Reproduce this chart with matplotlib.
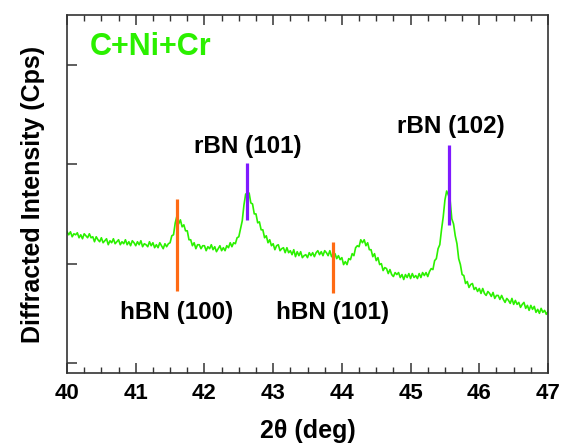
import numpy as np
import matplotlib
matplotlib.use('Agg')
import matplotlib.pyplot as plt
from matplotlib.ticker import MultipleLocator

plt.rcParams['font.family'] = ['Liberation Sans', 'DejaVu Sans']
plt.rcParams['font.weight'] = 'bold'

# XRD scan, 40 - 47 deg, step 0.025 deg (intensity in arb. cps)
intensity = [
    132, 129, 132, 127, 130, 129, 131, 126, 129, 125, 130, 128, 126, 130, 126, 127, 122, 127, 124, 122,
    126, 121, 123, 125, 119, 123, 121, 125, 120, 122, 124, 119, 122, 120, 124, 119, 122, 118, 123, 121,
    118, 122, 119, 123, 117, 120, 119, 117, 122, 118, 121, 116, 119, 116, 121, 118, 115, 120, 117, 120,
    121, 128, 129, 141, 148, 140, 144, 137, 139, 133, 133, 124, 124, 118, 121, 115, 119, 119, 115, 118,
    118, 113, 117, 115, 119, 114, 117, 112, 115, 118, 113, 116, 113, 118, 116, 121, 117, 121, 120, 126,
    127, 135, 143, 159, 170, 170, 171, 161, 160, 150, 150, 141, 142, 134, 134, 126, 128, 121, 124, 118,
    120, 114, 118, 119, 113, 115, 116, 111, 116, 111, 113, 109, 114, 107, 112, 108, 112, 106, 108, 109,
    106, 111, 108, 111, 107, 111, 113, 109, 112, 108, 113, 111, 108, 113, 107, 110, 110, 105, 108, 104,
    106, 99, 102, 99, 105, 104, 110, 108, 116, 118, 117, 124, 121, 124, 118, 121, 114, 114, 107, 110,
    103, 106, 99, 100, 93, 96, 95, 90, 94, 89, 87, 91, 89, 91, 86, 89, 84, 89, 86, 90,
    85, 90, 86, 88, 85, 90, 86, 91, 88, 91, 87, 92, 95, 94, 103, 105, 115, 119, 134, 147,
    164, 173, 169, 164, 145, 140, 128, 120, 105, 99, 89, 88, 80, 82, 76, 79, 80, 74, 76, 72,
    75, 70, 75, 70, 68, 72, 70, 67, 71, 65, 68, 68, 64, 68, 64, 61, 65, 63, 60, 65,
    59, 63, 59, 61, 56, 59, 61, 55, 58, 53, 58, 54, 57, 51, 54, 50, 55, 51, 53, 49,
    52,
]
two_theta = np.linspace(40, 47, len(intensity))

# reference peak markers
hbn_pos = [41.60, 43.87]
hbn_lo = [72, 70]
hbn_hi = [165, 122]
hbn_labels = ['hBN (100)', 'hBN (101)']
hbn_text_y = [51, 51]

rbn_pos = [42.62, 45.565]
rbn_lo = [144, 139]
rbn_hi = [201, 219]
rbn_labels = ['rBN (101)', 'rBN (102)']
rbn_text_x = [42.635, 45.59]
rbn_text_y = [218, 238]

green = '#2bf000'
orange = '#ff6a13'
purple = '#7f1aff'

fig = plt.figure(figsize=(5.67, 4.44), dpi=100)
ax = fig.add_axes([0.1182, 0.1599, 0.8483, 0.8063])

ax.plot(two_theta, intensity, color=green, lw=1.2)
ax.vlines(hbn_pos, hbn_lo, hbn_hi, color=orange, lw=2.3)
ax.vlines(rbn_pos, rbn_lo, rbn_hi, color=purple, lw=2.3)

for x, y, s in zip(hbn_pos, hbn_text_y, hbn_labels):
    ax.text(x, y, s, ha='center', va='center', fontsize=17.5, fontweight='bold')
for x, y, s in zip(rbn_text_x, rbn_text_y, rbn_labels):
    ax.text(x, y, s, ha='center', va='center', fontsize=17.5, fontweight='bold')

ax.text(40.335, 318, 'C+Ni+Cr', color=green, ha='left', va='center',
        fontsize=22, fontweight='bold')

ax.set_xlim(40, 47)
ax.set_ylim(-10, 350)
ax.xaxis.set_major_locator(MultipleLocator(1))
ax.xaxis.set_minor_locator(MultipleLocator(0.25))
ax.set_yticks([0, 100, 200, 300])
ax.set_yticklabels([])
ax.tick_params(axis='x', which='both', direction='in', top=True, labelsize=16, pad=7, colors='#333333', labelcolor='black')
ax.tick_params(axis='x', which='major', length=7, width=1.1)
ax.tick_params(axis='x', which='minor', length=4, width=1.0)
ax.tick_params(axis='y', direction='in', length=7, width=1.1, left=True, right=False, colors='#333333')
for t in ax.get_xticklabels():
    t.set_fontweight('bold')
for sp in ax.spines.values():
    sp.set_linewidth(1.2)
    sp.set_color('#333333')

ax.set_xlabel('2\u03b8 (deg)', fontsize=18, fontweight='bold', labelpad=11)
ax.set_ylabel('Diffracted Intensity (Cps)', fontsize=18, fontweight='bold', labelpad=12)

fig.savefig('out.png', dpi=100)
